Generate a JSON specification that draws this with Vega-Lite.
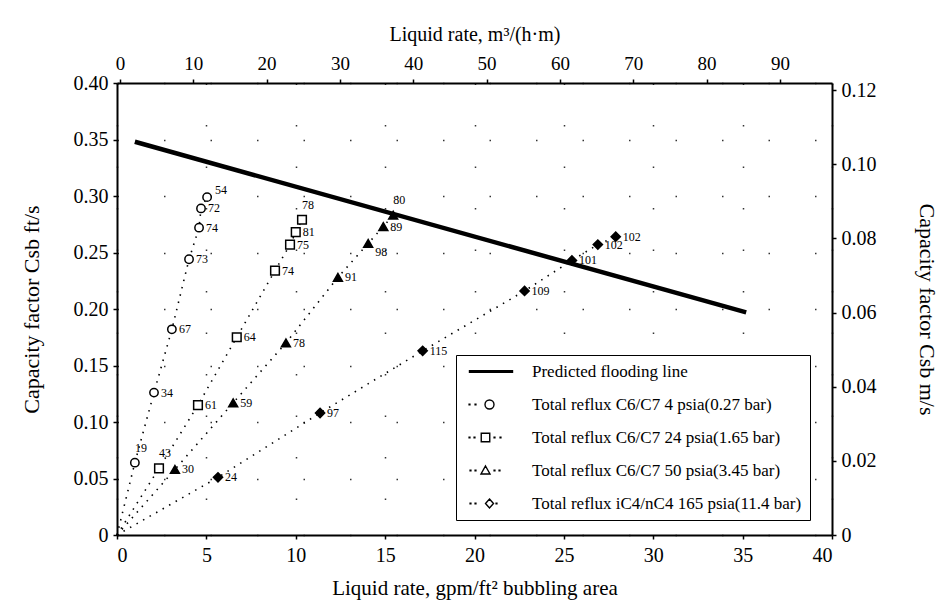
{
  "$schema": "https://vega.github.io/schema/vega-lite/v6.json",
  "width": 715,
  "height": 452,
  "autosize": {"type": "none"},
  "padding": {"left": 117, "top": 83, "right": 107, "bottom": 80},
  "background": "white",
  "config": {
    "view": {"stroke": null},
    "font": "Liberation Serif",
    "axis": {
      "labelFont": "Liberation Serif",
      "labelColor": "black",
      "labelFontSize": 20,
      "titleFont": "Liberation Serif",
      "titleColor": "black",
      "titleFontWeight": "normal",
      "titleFontSize": 21,
      "domainColor": "black",
      "domainWidth": 2,
      "tickColor": "black",
      "tickWidth": 1.5,
      "tickSize": 4
    }
  },
  "datasets": {
    "pts": [
      {"series": "Total reflux C6/C7 4 psia(0.27 bar)", "x": 0, "y": 0, "label": ""},
      {"series": "Total reflux C6/C7 4 psia(0.27 bar)", "x": 1.0, "y": 0.064, "label": "19"},
      {"series": "Total reflux C6/C7 4 psia(0.27 bar)", "x": 2.07, "y": 0.126, "label": "34"},
      {"series": "Total reflux C6/C7 4 psia(0.27 bar)", "x": 3.07, "y": 0.182, "label": "67"},
      {"series": "Total reflux C6/C7 4 psia(0.27 bar)", "x": 4.03, "y": 0.244, "label": "73"},
      {"series": "Total reflux C6/C7 4 psia(0.27 bar)", "x": 4.59, "y": 0.272, "label": "74"},
      {"series": "Total reflux C6/C7 4 psia(0.27 bar)", "x": 4.7, "y": 0.289, "label": "72"},
      {"series": "Total reflux C6/C7 4 psia(0.27 bar)", "x": 5.04, "y": 0.299, "label": "54"},
      {"series": "Total reflux C6/C7 24 psia(1.65 bar)", "x": 0, "y": 0, "label": ""},
      {"series": "Total reflux C6/C7 24 psia(1.65 bar)", "x": 2.35, "y": 0.059, "label": "43"},
      {"series": "Total reflux C6/C7 24 psia(1.65 bar)", "x": 4.53, "y": 0.115, "label": "61"},
      {"series": "Total reflux C6/C7 24 psia(1.65 bar)", "x": 6.7, "y": 0.175, "label": "64"},
      {"series": "Total reflux C6/C7 24 psia(1.65 bar)", "x": 8.84, "y": 0.234, "label": "74"},
      {"series": "Total reflux C6/C7 24 psia(1.65 bar)", "x": 9.68, "y": 0.257, "label": "75"},
      {"series": "Total reflux C6/C7 24 psia(1.65 bar)", "x": 10.0, "y": 0.268, "label": "81"},
      {"series": "Total reflux C6/C7 24 psia(1.65 bar)", "x": 10.35, "y": 0.279, "label": "78"},
      {"series": "Total reflux C6/C7 50 psia(3.45 bar)", "x": 0, "y": 0, "label": ""},
      {"series": "Total reflux C6/C7 50 psia(3.45 bar)", "x": 3.24, "y": 0.058, "label": "30"},
      {"series": "Total reflux C6/C7 50 psia(3.45 bar)", "x": 6.5, "y": 0.117, "label": "59"},
      {"series": "Total reflux C6/C7 50 psia(3.45 bar)", "x": 9.45, "y": 0.17, "label": "78"},
      {"series": "Total reflux C6/C7 50 psia(3.45 bar)", "x": 12.36, "y": 0.228, "label": "91"},
      {"series": "Total reflux C6/C7 50 psia(3.45 bar)", "x": 14.05, "y": 0.258, "label": "98"},
      {"series": "Total reflux C6/C7 50 psia(3.45 bar)", "x": 14.9, "y": 0.273, "label": "89"},
      {"series": "Total reflux C6/C7 50 psia(3.45 bar)", "x": 15.45, "y": 0.283, "label": "80"},
      {"series": "Total reflux iC4/nC4 165 psia(11.4 bar)", "x": 0, "y": 0, "label": ""},
      {"series": "Total reflux iC4/nC4 165 psia(11.4 bar)", "x": 5.65, "y": 0.051, "label": "24"},
      {"series": "Total reflux iC4/nC4 165 psia(11.4 bar)", "x": 11.36, "y": 0.108, "label": "97"},
      {"series": "Total reflux iC4/nC4 165 psia(11.4 bar)", "x": 17.1, "y": 0.163, "label": "115"},
      {"series": "Total reflux iC4/nC4 165 psia(11.4 bar)", "x": 22.8, "y": 0.216, "label": "109"},
      {"series": "Total reflux iC4/nC4 165 psia(11.4 bar)", "x": 25.45, "y": 0.243, "label": "101"},
      {"series": "Total reflux iC4/nC4 165 psia(11.4 bar)", "x": 26.9, "y": 0.257, "label": "102"},
      {"series": "Total reflux iC4/nC4 165 psia(11.4 bar)", "x": 27.9, "y": 0.264, "label": "102"}
    ],
    "flood": [
      {"x": 1.0, "y": 0.348},
      {"x": 35.2, "y": 0.197}
    ],
    "secondary": [
      {"m": 0, "c": 0}
    ]
  },
  "layer": [
    {
      "layer": [
        {
          "data": {"name": "flood"},
          "mark": {"type": "line", "color": "black", "strokeWidth": 4.5},
          "encoding": {
            "x": {
              "field": "x", "type": "quantitative",
              "scale": {"domain": [0, 40], "nice": false},
              "axis": {
                "orient": "bottom",
                "values": [0, 5, 10, 15, 20, 25, 30, 35, 40],
                "title": "Liquid rate, gpm/ft² bubbling area",
                "labelPadding": 6,
                "titlePadding": 12,
                "grid": true,
                "gridColor": "black",
                "gridDash": [1.5, 40],
                "gridWidth": 1.5,
                "gridOpacity": 0.8
              }
            },
            "y": {
              "field": "y", "type": "quantitative",
              "scale": {"domain": [0, 0.4], "nice": false},
              "axis": {
                "orient": "left",
                "values": [0, 0.05, 0.1, 0.15, 0.2, 0.25, 0.3, 0.35, 0.4],
                "labelExpr": "datum.value === 0 ? '0' : format(datum.value, '.2f')",
                "title": "Capacity factor Csb ft/s",
                "titleFontSize": 22,
                "labelPadding": 5,
                "titlePadding": 30,
                "grid": true,
                "gridColor": "black",
                "gridDash": [1.5, 45],
                "gridWidth": 1.5,
                "gridOpacity": 0.8
              }
            }
          }
        },
        {
          "data": {"name": "pts"},
          "mark": {"type": "line", "color": "black", "strokeWidth": 1.6, "strokeDash": [1.5, 6]},
          "encoding": {
            "x": {"field": "x", "type": "quantitative"},
            "y": {"field": "y", "type": "quantitative"},
            "detail": {"field": "series", "type": "nominal"}
          }
        },
        {
          "data": {"name": "pts"},
          "transform": [{"filter": "datum.label != ''"}],
          "mark": {"type": "point", "filled": true, "stroke": "black", "strokeWidth": 1.5, "opacity": 1},
          "encoding": {
            "x": {"field": "x", "type": "quantitative"},
            "y": {"field": "y", "type": "quantitative"},
            "shape": {
              "field": "series", "type": "nominal",
              "scale": {
                "domain": ["Total reflux C6/C7 4 psia(0.27 bar)", "Total reflux C6/C7 24 psia(1.65 bar)", "Total reflux C6/C7 50 psia(3.45 bar)", "Total reflux iC4/nC4 165 psia(11.4 bar)"],
                "range": ["circle", "square", "triangle-up", "diamond"]
              },
              "legend": null
            },
            "fill": {
              "field": "series", "type": "nominal",
              "scale": {
                "domain": ["Total reflux C6/C7 4 psia(0.27 bar)", "Total reflux C6/C7 24 psia(1.65 bar)", "Total reflux C6/C7 50 psia(3.45 bar)", "Total reflux iC4/nC4 165 psia(11.4 bar)"],
                "range": ["white", "white", "black", "black"]
              },
              "legend": null
            },
            "size": {
              "field": "series", "type": "nominal",
              "scale": {
                "domain": ["Total reflux C6/C7 4 psia(0.27 bar)", "Total reflux C6/C7 24 psia(1.65 bar)", "Total reflux C6/C7 50 psia(3.45 bar)", "Total reflux iC4/nC4 165 psia(11.4 bar)"],
                "range": [70, 85, 55, 45]
              },
              "legend": null
            }
          }
        },
        {
          "data": {"name": "pts"},
          "transform": [{"filter": "datum.label != ''"}],
          "mark": {"type": "point", "filled": false, "opacity": 0},
          "encoding": {
            "x": {"field": "x", "type": "quantitative"},
            "y": {"field": "y", "type": "quantitative"},
            "shape": {
              "field": "series", "type": "nominal",
              "scale": {
                "domain": ["Predicted flooding line", "Total reflux C6/C7 4 psia(0.27 bar)", "Total reflux C6/C7 24 psia(1.65 bar)", "Total reflux C6/C7 50 psia(3.45 bar)", "Total reflux iC4/nC4 165 psia(11.4 bar)"],
                "range": [
                  "M-3.6,-0.14H5V0.14H-3.6Z",
                  "M-3.68,-0.08h0.16v0.16h-0.16Z M-2.48,-0.08h0.16v0.16h-0.16Z M-0.5,0A0.9,0.9,0,1,1,1.3,0A0.9,0.9,0,1,1,-0.5,0Z",
                  "M-3.68,-0.08h0.16v0.16h-0.16Z M-2.68,-0.08h0.16v0.16h-0.16Z M-1.25,-0.85H0.45V0.85H-1.25Z M1.32,-0.08h0.16v0.16h-0.16Z M2.52,-0.08h0.16v0.16h-0.16Z",
                  "M-3.48,-0.08h0.16v0.16h-0.16Z M-2.48,-0.08h0.16v0.16h-0.16Z M-0.4,-0.9L0.5,0.7L-1.3,0.7Z M1.32,-0.08h0.16v0.16h-0.16Z M2.32,-0.08h0.16v0.16h-0.16Z",
                  "M-3.48,-0.08h0.16v0.16h-0.16Z M-2.48,-0.08h0.16v0.16h-0.16Z M0.4,-0.9L1.2,0L0.4,0.9L-0.4,0Z M1.72,-0.08h0.16v0.16h-0.16Z"
                ]
              },
              "legend": {
                "title": null,
                "orient": "none",
                "legendX": 339,
                "legendY": 272,
                "padding": 8,
                "strokeColor": "black",
                "fillColor": "white",
                "symbolSize": 100,
                "symbolStrokeColor": "black",
                "symbolStrokeWidth": 1.4,
                "symbolFillColor": "transparent",
                "symbolOpacity": 1,
                "symbolOffset": 15,
                "labelOffset": 36,
                "labelFont": "Liberation Serif",
                "labelFontSize": 17,
                "labelColor": "black",
                "labelLimit": 400,
                "rowPadding": 15,
                "encode": {"symbols": {"update": {"opacity": {"value": 1}}}}
              }
            }
          }
        },
        {
          "data": {"name": "pts"},
          "transform": [{"filter": "datum.label != '' && datum.label != '19' && datum.label != '43' && datum.label != '80' && datum.label != '98' && datum.label != '54' && !(datum.label == '78' && datum.series == 'Total reflux C6/C7 24 psia(1.65 bar)')"}],
          "mark": {"type": "text", "align": "left", "baseline": "middle", "dx": 7, "fontSize": 12, "font": "Liberation Serif", "fill": "black"},
          "encoding": {
            "x": {"field": "x", "type": "quantitative"},
            "y": {"field": "y", "type": "quantitative"},
            "text": {"field": "label", "type": "nominal"}
          }
        },
        {
          "data": {"name": "pts"},
          "transform": [{"filter": "datum.label == '19' || datum.label == '43' || datum.label == '80' || (datum.label == '78' && datum.series == 'Total reflux C6/C7 24 psia(1.65 bar)')"}],
          "mark": {"type": "text", "align": "center", "baseline": "middle", "dx": 6, "dy": -15, "fontSize": 12, "font": "Liberation Serif", "fill": "black"},
          "encoding": {
            "x": {"field": "x", "type": "quantitative"},
            "y": {"field": "y", "type": "quantitative"},
            "text": {"field": "label", "type": "nominal"}
          }
        },
        {
          "data": {"name": "pts"},
          "transform": [{"filter": "datum.label == '98'"}],
          "mark": {"type": "text", "align": "left", "baseline": "middle", "dx": 7, "dy": 9, "fontSize": 12, "font": "Liberation Serif", "fill": "black"},
          "encoding": {
            "x": {"field": "x", "type": "quantitative"},
            "y": {"field": "y", "type": "quantitative"},
            "text": {"field": "label", "type": "nominal"}
          }
        },
        {
          "data": {"name": "pts"},
          "transform": [{"filter": "datum.label == '54'"}],
          "mark": {"type": "text", "align": "left", "baseline": "middle", "dx": 8, "dy": -7, "fontSize": 12, "font": "Liberation Serif", "fill": "black"},
          "encoding": {
            "x": {"field": "x", "type": "quantitative"},
            "y": {"field": "y", "type": "quantitative"},
            "text": {"field": "label", "type": "nominal"}
          }
        }
      ],
      "resolve": {"scale": {"shape": "independent"}}
    },
    {
      "data": {"name": "secondary"},
      "mark": {"type": "point", "opacity": 0},
      "encoding": {
        "x": {
          "field": "m", "type": "quantitative",
          "scale": {"domain": [-0.4, 97.1], "nice": false, "zero": false},
          "axis": {
            "orient": "top",
            "values": [0, 10, 20, 30, 40, 50, 60, 70, 80, 90],
            "title": "Liquid rate, m³/(h·m)",
            "labelFontSize": 19,
            "titleFontSize": 20,
            "labelPadding": 6,
            "titlePadding": 10,
            "grid": false
          }
        },
        "y": {
          "field": "c", "type": "quantitative",
          "scale": {"domain": [0, 0.12192], "nice": false},
          "axis": {
            "orient": "right",
            "values": [0, 0.02, 0.04, 0.06, 0.08, 0.1, 0.12],
            "labelExpr": "datum.value === 0 ? '0' : format(datum.value, '.2f')",
            "title": "Capacity factor Csb m/s",
            "titleFontSize": 22,
            "labelPadding": 5,
            "titlePadding": 38,
            "grid": false
          }
        }
      }
    }
  ],
  "resolve": {
    "scale": {"x": "independent", "y": "independent"},
    "axis": {"x": "independent", "y": "independent"}
  }
}
